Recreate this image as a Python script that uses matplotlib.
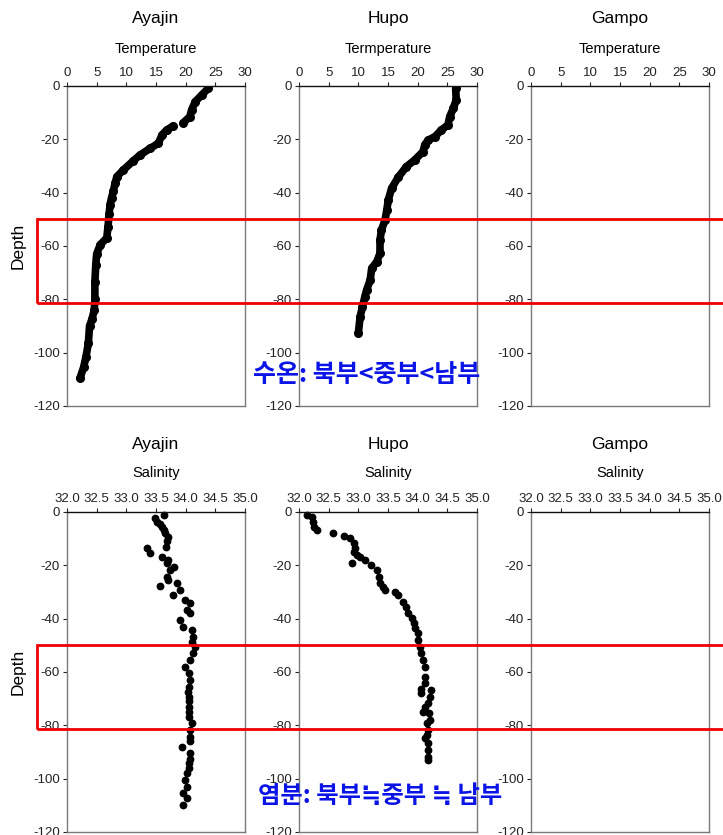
import matplotlib.pyplot as plt
import matplotlib.transforms as mtransforms
from matplotlib.patches import Rectangle

# ---- data ----
stations = ["Ayajin", "Hupo", "Gampo"]
temp_labels = ["Temperature", "Termperature", "Temperature"]

# Ayajin temperature profile (nan = small gap in the trace near -14 m)
nan = float('nan')
aya_t_depth = [-0.9, -3.4, -5.9, -9, -11.5, -13.8, nan, -15, -16.5, -18.4, -21.5, -23.4, -25.9,
               -28, -31.5, -34, -36.5, -39.5, -42, -44.5, -48, -53, -57, -59.5, -63, -67,
               -73.5, -80, -84, -87.5, -90, -96.5, -101.5, -105.5, -109.5]
aya_t = [23.8, 22.7, 21.6, 21.0, 20.7, 19.6, nan, 17.9, 16.8, 16.0, 15.4, 14.0, 12.3,
         11.2, 9.5, 8.4, 8.1, 7.8, 7.5, 7.25, 7.1, 6.9, 6.7, 5.6, 5.0, 4.85,
         4.7, 4.7, 4.6, 4.2, 3.8, 3.6, 3.2, 2.8, 2.2]

# Hupo temperature profile
hupo_t_depth = [-0.9, -5.25, -8.4, -11.5, -14.6, -16.5, -19, -20.25, -22, -24.6, -27.75,
                -30.25, -34.3, -38.4, -42.75, -46.5, -50.25, -54, -57.75, -62.75, -65.9,
                -68.4, -72.75, -76.5, -79, -82.75, -86.5, -92.75]
hupo_t = [26.4, 26.5, 26.0, 25.4, 25.1, 24.0, 22.9, 21.8, 21.2, 20.9, 19.5,
          18.1, 16.7, 15.6, 15.05, 14.8, 14.5, 13.9, 13.65, 13.65, 13.1,
          12.25, 12.0, 11.4, 11.1, 10.7, 10.3, 10.0]

# Ayajin salinity profile
aya_s_depth = [-1.1, -2.4, -3.6, -4.5, -5.5, -6.75, -8, -9.25, -11, -13, -13.6, -15.5, -16.75,
               -18, -19.25, -20.5, -21.75, -24.25, -25.5, -26.75, -27.75, -29.25, -31.1, -33,
               -34.25, -36.75, -38, -40.5, -43, -44.25, -46.75, -48.6, -50.5, -53, -55.5,
               -58, -60.5, -63, -65.5, -67.5, -69.25, -71, -73, -75, -76.75, -79.25, -81.75,
               -84.25, -86, -88, -90.5, -92.5, -94.25, -96, -98, -100.5, -103, -105.5,
               -107.4, -110]
aya_s = [33.63, 33.49, 33.51, 33.56, 33.6, 33.63, 33.65, 33.71, 33.68, 33.67, 33.35, 33.4, 33.6,
         33.71, 33.68, 33.8, 33.74, 33.68, 33.71, 33.85, 33.56, 33.91, 33.79, 33.99,
         34.08, 34.02, 34.08, 33.91, 33.96, 34.1, 34.13, 34.1, 34.15, 34.13, 34.08,
         33.99, 34.05, 34.08, 34.05, 34.04, 34.05, 34.05, 34.05, 34.06, 34.06, 34.1, 34.08,
         34.08, 34.07, 33.93, 34.08, 34.07, 34.06, 34.05, 34.02, 33.99, 34.02, 33.96,
         34.02, 33.95]

# Hupo salinity profile
hupo_s_depth = [-1.1, -1.75, -3.6, -5.5, -6.75, -8, -9, -9.9, -11.75, -13.6, -14.9, -16.1,
                -16.75, -18, -19, -19.9, -21.75, -24.25, -26.75, -28, -29.25, -29.9, -31.1,
                -33.6, -35.5, -38, -39.9, -41.75, -43.6, -45.5, -48, -50.5, -53, -55.5,
                -58, -61.75, -64.25, -66.5, -68, -66.75, -69.25, -71.75, -73, -74.9,
                -75.5, -78, -79.25, -81.75, -83.6, -84.9, -86.75, -89.25, -91.75, -93]
hupo_s = [32.13, 32.22, 32.24, 32.25, 32.30, 32.58, 32.75, 32.86, 32.92, 32.95, 32.92, 32.97,
          33.03, 33.11, 32.89, 33.22, 33.31, 33.34, 33.37, 33.42, 33.45, 33.62, 33.67,
          33.76, 33.81, 33.84, 33.90, 33.93, 33.95, 34.01, 34.01, 34.04, 34.06, 34.09,
          34.12, 34.12, 34.12, 34.06, 34.06, 34.22, 34.2, 34.18, 34.12, 34.09,
          34.19, 34.2, 34.15, 34.18, 34.15, 34.12, 34.18, 34.18, 34.18, 34.18]

temp_data = [(aya_t, aya_t_depth), (hupo_t, hupo_t_depth), None]
sal_data = [(aya_s, aya_s_depth), (hupo_s, hupo_s_depth), None]

temp_ticks = [0, 5, 10, 15, 20, 25, 30]
sal_ticks = [32.0, 32.5, 33.0, 33.5, 34.0, 34.5, 35.0]
depth_ticks = [0, -20, -40, -60, -80, -100, -120]

text_temp = "수온: 북부<중부<남부"
text_sal = "염분: 북부≒중부 ≒ 남부"


def style_axes(ax, xticks, xfmt):
    ax.set_ylim(-120, 0)
    ax.set_xlim(xticks[0], xticks[-1])
    ax.xaxis.tick_top()
    ax.xaxis.set_label_position('top')
    ax.set_xticks(xticks)
    ax.set_xticklabels([xfmt.format(v) for v in xticks])
    ax.set_yticks(depth_ticks)
    ax.tick_params(axis='both', direction='out', length=3, width=0.8,
                   labelsize=9.5, pad=2, colors='#222222')
    for side in ['left', 'right', 'bottom']:
        ax.spines[side].set_color('#7a7a7a')
        ax.spines[side].set_linewidth(1.0)
    ax.spines['top'].set_color('#111111')
    ax.spines['top'].set_linewidth(1.0)


def main():
    plt.rcParams['font.family'] = ['Liberation Sans', 'DejaVu Sans']
    plt.rcParams['axes.unicode_minus'] = False
    fig = plt.figure(figsize=(7.23, 8.35), dpi=100)

    W, H = 723.0, 835.0
    lefts = [67, 299, 531]
    tops = [86, 512]
    aw, ah = 178, 320

    rows = []
    for r, top in enumerate(tops):
        row = []
        for c, left in enumerate(lefts):
            ax = fig.add_axes([left / W, 1 - (top + ah) / H, aw / W, ah / H])
            row.append(ax)
        rows.append(row)

    # temperature row
    for c, ax in enumerate(rows[0]):
        style_axes(ax, temp_ticks, "{:g}")
        if temp_data[c] is not None:
            t, d = temp_data[c]
            ax.plot(t, d, color='black', lw=5.5, marker='o', ms=5.5,
                    solid_capstyle='round', solid_joinstyle='round')
        ax.set_xlabel(temp_labels[c], fontsize=10.5)
        ax.xaxis.set_label_coords(0.5, 1 + 37 / ah)
        ax.xaxis.label.set_va('center')
        ax.text(0.5, 1 + 67 / ah, stations[c], transform=ax.transAxes,
                ha='center', va='center', fontsize=12.5)

    # salinity row
    for c, ax in enumerate(rows[1]):
        style_axes(ax, sal_ticks, "{:.1f}")
        if sal_data[c] is not None:
            s, d = sal_data[c]
            ax.plot(s, d, 'o', color='black', ms=4.6, clip_on=False)
        ax.set_xlabel("Salinity", fontsize=10.5)
        ax.xaxis.set_label_coords(0.5, 1 + 39 / ah)
        ax.xaxis.label.set_va('center')
        ax.text(0.5, 1 + 67 / ah, stations[c], transform=ax.transAxes,
                ha='center', va='center', fontsize=12.5)

    for row in rows:
        row[0].set_ylabel("Depth", fontsize=12.5)
        row[0].yaxis.set_label_coords(-0.275, 0.5)
        row[0].yaxis.label.set_va('center')

    # red boxes across the figure, in depth units of each row
    for row in rows:
        trans = mtransforms.blended_transform_factory(fig.transFigure, row[0].transData)
        rect = Rectangle((37 / W, -81.5), 1.0, 31.5, transform=trans, fill=False,
                         edgecolor='#ee0000', lw=2.0, clip_on=False, zorder=10)
        fig.add_artist(rect)

    kfont = ['Noto Sans CJK KR', 'DejaVu Sans']
    fig.text(367 / W, 1 - 375 / H, text_temp, ha='center', va='center', color='#0a14e6',
             fontsize=18, fontweight='bold', family=kfont)
    fig.text(380 / W, 1 - 796 / H, text_sal, ha='center', va='center', color='#0a14e6',
             fontsize=17.5, fontweight='bold', family=kfont)

    fig.savefig("out.png", dpi=100)


if __name__ == '__main__':
    main()
